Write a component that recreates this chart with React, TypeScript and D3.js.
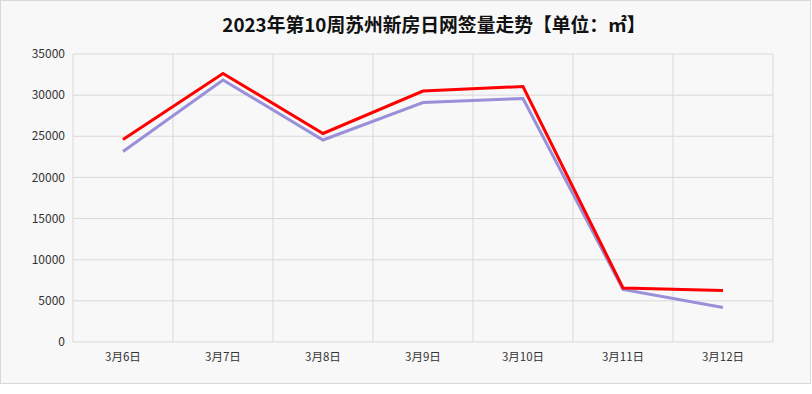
import * as d3 from "d3";

const categories = ["3月6日", "3月7日", "3月8日", "3月9日", "3月10日", "3月11日", "3月12日"];
const redSeries = [24610, 32630, 25340, 30500, 31050, 6560, 6250];
const purpleSeries = [23150, 31840, 24550, 29100, 29590, 6380, 4190];
const yTicks = [0, 5000, 10000, 15000, 20000, 25000, 30000, 35000];
const title = "2023年第10周苏州新房日网签量走势【单位：㎡】";

const width = 812;
const height = 394;
const margin = { top: 54, right: 39, bottom: 52, left: 73 };

function App() {
  const innerW = width - margin.left - margin.right;
  const innerH = height - margin.top - margin.bottom;

  const xScale = d3.scaleBand().domain(categories).range([0, innerW]);
  const yScale = d3.scaleLinear().domain([0, 35000]).range([innerH, 0]);

  const line = d3
    .line<number>()
    .x((d, i) => xScale(categories[i])! + xScale.bandwidth() / 2)
    .y((d) => yScale(d));

  const font = "'Microsoft YaHei', 'Noto Sans CJK SC', sans-serif";

  return (
    <svg
      width={width}
      height={height}
      style={{ position: "absolute", left: 0, top: 0, background: "#fff" }}
    >
      <rect x={0.5} y={0.5} width={810} height={383} fill="#f8f8f8" stroke="#d9d9d9" />
      <text
        x={434}
        y={32}
        textAnchor="middle"
        fontFamily={font}
        fontWeight="bold"
        fontSize={18.8}
        fill="#111"
      >
        {title}
      </text>
      <g transform={`translate(${margin.left},${margin.top})`}>
        {yTicks.map((t) => (
          <line key={"h" + t} x1={0} x2={innerW} y1={yScale(t)} y2={yScale(t)} stroke="#d9d9d9" />
        ))}
        {categories.map((c) => (
          <line key={"v" + c} x1={xScale(c)} x2={xScale(c)} y1={0} y2={innerH} stroke="#d9d9d9" />
        ))}
        <line x1={innerW} x2={innerW} y1={0} y2={innerH} stroke="#d9d9d9" />
        {yTicks.map((t) => (
          <text
            key={"yl" + t}
            x={-8}
            y={yScale(t)}
            dy="0.35em"
            textAnchor="end"
            fontFamily={font}
            fontSize={12}
            fill="#333"
          >
            {t}
          </text>
        ))}
        {categories.map((c) => (
          <text
            key={"xl" + c}
            x={xScale(c)! + xScale.bandwidth() / 2}
            y={innerH + 19}
            textAnchor="middle"
            fontFamily={font}
            fontSize={11.5}
            fill="#333"
          >
            {c}
          </text>
        ))}
        <path d={line(purpleSeries)!} fill="none" stroke="#9890d8" strokeWidth={3} strokeLinejoin="miter" />
        <path d={line(redSeries)!} fill="none" stroke="#ff0000" strokeWidth={3} strokeLinejoin="miter" />
      </g>
    </svg>
  );
}

export default App;
